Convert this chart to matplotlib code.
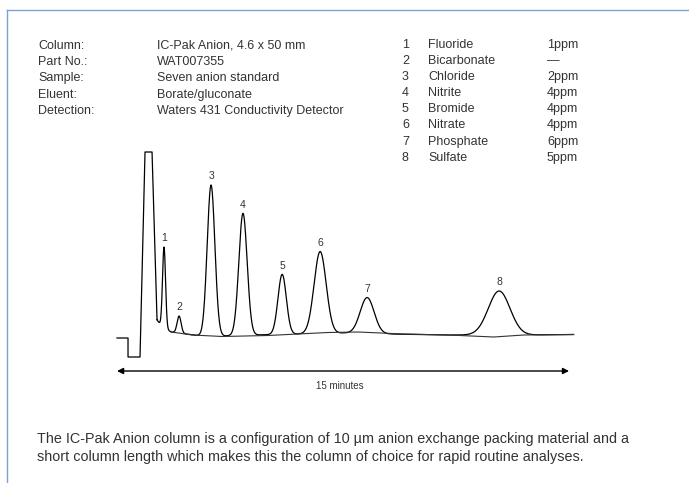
import numpy as np
import matplotlib
matplotlib.use("Agg")
import matplotlib.pyplot as plt

plt.rcParams['font.family'] = ['Liberation Sans', 'DejaVu Sans']

# ---- data (time in minutes, response in arbitrary units) ----
info_keys = ["Column:", "Part No.:", "Sample:", "Eluent:", "Detection:"]
info_vals = ["IC-Pak Anion, 4.6 x 50 mm", "WAT007355", "Seven anion standard",
             "Borate/gluconate", "Waters 431 Conductivity Detector"]

peak_ids = ["1", "2", "3", "4", "5", "6", "7", "8"]
peak_names = ["Fluoride", "Bicarbonate", "Chloride", "Nitrite", "Bromide",
              "Nitrate", "Phosphate", "Sulfate"]
peak_conc = ["1ppm", "\u2014", "2ppm", "4ppm", "4ppm", "4ppm", "6ppm", "5ppm"]

peak_time = [1.56, 2.06, 3.12, 4.18, 5.48, 6.74, 8.30, 12.68]
peak_height = [81, 17, 151, 122, 60, 82, 36, 44]
peak_sigma = [0.05, 0.066, 0.128, 0.138, 0.138, 0.2, 0.23, 0.36]

# injection / solvent front
front_t = [0.0, 0.365, 0.365, 0.763, 0.929, 1.162, 1.328]
front_r = [-3, -3, -22, -22, 183, 183, 15]

# sample run baseline (incl. solvent tail)
base_t = [1.328, 1.5, 1.8, 2.3, 2.8, 3.5, 4.5, 6.0, 7.5, 9.0, 11.0, 13.5, 15.15]
base_r = [15, 8, 3, 1, -1, -1, 0, 1, 2, 1, 0, 0, 0.5]

# blank run baseline
blank_t = [1.8, 2.5, 3.5, 5.0, 7.0, 8.0, 9.5, 11.0, 12.5, 13.5, 15.15]
blank_r = [3, 0, -1.5, -0.5, 2.5, 3, 1, 0, -2, 0, 0.5]

scale_minutes = 15
body = ("The IC-Pak Anion column is a configuration of 10 \u00b5m anion exchange packing material and a\n"
        "short column length which makes this the column of choice for rapid routine analyses.")

W, H = 689, 483
TXT = "#333333"
fig = plt.figure(figsize=(W / 100, H / 100), dpi=100)
ax = fig.add_axes([0, 0, 1, 1])
ax.set_xlim(-3.883, 18.98)
ax.set_ylim(-148, 335)
ax.axis("off")

# chromatogram
t = np.linspace(base_t[0], base_t[-1], 3000)
r = np.interp(t, base_t, base_r)
for tp, hp, sp in zip(peak_time, peak_height, peak_sigma):
    r = r + hp * np.exp(-0.5 * ((t - tp) / sp) ** 2)
ax.plot(np.r_[front_t, t], np.r_[front_r, r], color="black", lw=0.9)
ax.plot(blank_t, blank_r, color="#333333", lw=0.8)

for lab, tp, hp in zip(peak_ids, peak_time, peak_height):
    top = hp + np.interp(tp, base_t, base_r)
    ax.annotate(lab, (tp, top), xytext=(0, 4), textcoords="offset points",
                ha="center", va="baseline", fontsize=7.5, color=TXT)

# 15 minute scale bar
ax.annotate("", xy=(0, -36), xytext=(scale_minutes, -36),
            arrowprops=dict(arrowstyle="<|-|>", color="black", lw=1.0,
                            mutation_scale=9, shrinkA=0, shrinkB=0))
ax.text(scale_minutes / 2 - 0.1, -51, f"{scale_minutes} minutes", ha="center",
        va="center", fontsize=7, color=TXT)

# frame lines
fig.add_artist(plt.Line2D([7 / W, 1], [1 - 10 / H] * 2, color="#7ba3d6", lw=1.0))
fig.add_artist(plt.Line2D([7 / W] * 2, [0, 1 - 10 / H], color="#7ba3d6", lw=1.0))

# header text
fs = 9
for i, (k, v) in enumerate(zip(info_keys, info_vals)):
    y = 1 - (46 + 16.2 * i) / H
    fig.text(38 / W, y, k, fontsize=fs, va="center", color=TXT)
    fig.text(157 / W, y, v, fontsize=fs, va="center", color=TXT)
for i, (n, name, c) in enumerate(zip(peak_ids, peak_names, peak_conc)):
    y = 1 - (45 + 16.1 * i) / H
    fig.text(402 / W, y, n, fontsize=fs, va="center", color=TXT)
    fig.text(428 / W, y, name, fontsize=fs, va="center", color=TXT)
    fig.text(547 / W, y, c, fontsize=fs, va="center", color=TXT)

fig.text(37 / W, 1 - 448 / H, body, fontsize=10.4, va="center", linespacing=1.4,
         color=TXT)

fig.savefig("out.png", dpi=100)
